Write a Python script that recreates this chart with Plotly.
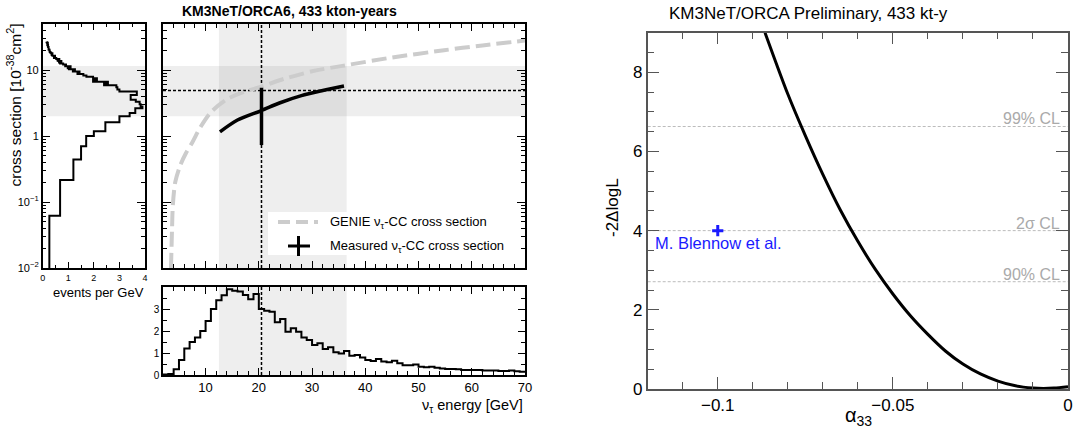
import plotly.graph_objects as go

W, H = 1077, 434
def fx(p): return p / W
def fy(p): return 1 - p / H

FONT = "Liberation Sans, Arial, Helvetica, sans-serif"

# ---------------- data ----------------
# energy histogram (1 GeV bins from 2 to 70 GeV), events per GeV
e_edges = list(range(2, 71))
counts = [0.02, 0.05, 0.26, 0.68, 1.20, 1.50, 1.70, 2.00, 2.45, 3.00,
          3.40, 3.62, 3.90, 3.83, 3.79, 3.64, 3.44, 3.68, 3.00, 2.92,
          2.88, 2.40, 2.55, 1.97, 2.12, 1.97, 1.71, 1.59, 1.36, 1.44,
          1.18, 1.26, 1.03, 0.98, 1.09, 0.88, 0.91, 0.80, 0.68, 0.64,
          0.73, 0.61, 0.58, 0.65, 0.53, 0.44, 0.44, 0.48, 0.38, 0.35,
          0.38, 0.33, 0.29, 0.27, 0.27, 0.26, 0.23, 0.23, 0.23, 0.23,
          0.21, 0.20, 0.21, 0.18, 0.18, 0.20, 0.17, 0.15]

# projected cross-section values at the energy edges 4..70 GeV (left panel)
sigma_edges = [0.005, 0.062, 0.216, 0.44, 0.70, 1.00, 1.18, 1.62, 1.99, 2.23,
               2.65, 2.80, 3.05, 3.30, 3.54, 4.21, 4.72, 5.10, 5.50, 5.90,
               6.25, 6.67, 7.10, 7.50, 7.90, 8.30, 8.70, 9.10, 9.50, 9.90,
               10.3, 10.7, 11.0, 11.4, 11.8, 12.2, 12.6, 13.0, 13.3, 13.7,
               14.0, 14.4, 14.8, 15.2, 15.6, 16.0, 16.5, 17.0, 17.5, 18.0,
               18.5, 19.0, 19.5, 20.0, 20.5, 21.0, 21.5, 22.0, 22.5, 23.0,
               23.5, 24.1, 24.7, 25.3, 25.9, 26.5, 27.0]
left_counts = counts[2:]   # bins 4..70 GeV

# GENIE nu_tau CC cross section [1e-38 cm^2]
genie_E = [3.5, 3.7, 3.85, 4.3, 5.24, 6.3, 7.5, 9.0, 11.0, 14.0, 17.3, 20.5,
           23.6, 30.0, 35.7, 45.0, 54.8, 62.0, 70.0]
genie_sigma = [0.01, 0.04, 0.09, 0.20, 0.36, 0.55, 0.80, 1.35, 2.3, 3.6, 4.7,
               5.6, 6.9, 9.6, 11.6, 15.5, 20.0, 23.7, 28.0]

# measured cross section
meas_E = [12.7, 16.0, 20.5, 24.0, 28.0, 32.0, 36.0]
meas_sigma = [1.16, 1.75, 2.44, 3.2, 4.1, 4.9, 5.74]
meas_point_E = 20.5
meas_err = [0.73, 5.4]
meas_ref_sigma = 4.9
band_E = [12.5, 36.5]
band_sigma = [2.0, 11.5]

# right panel: likelihood scan
alpha = [-0.0865, -0.080, -0.075, -0.070, -0.065, -0.060, -0.055, -0.050,
         -0.045, -0.040, -0.035, -0.030, -0.025, -0.020, -0.015, -0.010,
         -0.007, -0.004, 0.0]
dll = [9.0, 7.45, 6.4, 5.42, 4.52, 3.73, 3.02, 2.4, 1.85, 1.38, 0.96, 0.63,
       0.38, 0.2, 0.08, 0.025, 0.015, 0.025, 0.06]
cl_levels = [6.63, 4.0, 2.71]
cl_labels = ["99% CL", "2\u03c3 CL", "90% CL"]
blennow = [-0.1, 4.0]

fig = go.Figure()

band_col = "rgba(0,0,0,0.068)"

# ---------------- left panel ----------------
fig.add_trace(go.Scatter(x=[0, 4, 4, 0, 0],
                         y=[band_sigma[0], band_sigma[0], band_sigma[1], band_sigma[1], band_sigma[0]],
                         fill="toself", fillcolor=band_col, line=dict(width=0),
                         mode="lines", xaxis="x", yaxis="y", hoverinfo="skip"))
lx = list(left_counts) + [left_counts[-1]]
ly = list(sigma_edges)
fig.add_trace(go.Scatter(x=lx, y=ly, mode="lines", line=dict(color="black", width=2, shape="vh"),
                         xaxis="x", yaxis="y"))

# ---------------- main panel ----------------
fig.add_trace(go.Scatter(x=[2, 70, 70, 2, 2],
                         y=[band_sigma[0], band_sigma[0], band_sigma[1], band_sigma[1], band_sigma[0]],
                         fill="toself", fillcolor=band_col, line=dict(width=0),
                         mode="lines", xaxis="x2", yaxis="y2", hoverinfo="skip"))
fig.add_trace(go.Scatter(x=[band_E[0], band_E[1], band_E[1], band_E[0], band_E[0]],
                         y=[0.01, 0.01, 50, 50, 0.01],
                         fill="toself", fillcolor=band_col, line=dict(width=0),
                         mode="lines", xaxis="x2", yaxis="y2", hoverinfo="skip"))
fig.add_trace(go.Scatter(x=[meas_point_E, meas_point_E], y=[0.01, 50], mode="lines",
                         line=dict(color="black", width=1.5, dash="3px,2px"),
                         xaxis="x2", yaxis="y2"))
fig.add_trace(go.Scatter(x=[2, 70], y=[meas_ref_sigma, meas_ref_sigma], mode="lines",
                         line=dict(color="black", width=1.5, dash="3px,2px"),
                         xaxis="x2", yaxis="y2"))
fig.add_trace(go.Scatter(x=genie_E, y=genie_sigma, mode="lines",
                         line=dict(color="#cccccc", width=4, dash="15px,6px", shape="spline", smoothing=0.8),
                         xaxis="x2", yaxis="y2"))
fig.add_trace(go.Scatter(x=meas_E, y=meas_sigma, mode="lines",
                         line=dict(color="black", width=3.5, shape="spline", smoothing=0.8),
                         xaxis="x2", yaxis="y2"))
fig.add_trace(go.Scatter(x=[meas_point_E, meas_point_E], y=meas_err, mode="lines",
                         line=dict(color="black", width=3.5),
                         xaxis="x2", yaxis="y2"))

# ---------------- bottom panel ----------------
fig.add_trace(go.Scatter(x=[band_E[0], band_E[1], band_E[1], band_E[0], band_E[0]],
                         y=[0, 0, 4, 4, 0],
                         fill="toself", fillcolor=band_col, line=dict(width=0),
                         mode="lines", xaxis="x3", yaxis="y3", hoverinfo="skip"))
fig.add_trace(go.Scatter(x=[meas_point_E, meas_point_E], y=[0, 4], mode="lines",
                         line=dict(color="black", width=1.5, dash="3px,2px"),
                         xaxis="x3", yaxis="y3"))
hx = list(e_edges)
hy = list(counts) + [counts[-1]]
fig.add_trace(go.Scatter(x=hx, y=hy, mode="lines", line=dict(color="black", width=2, shape="hv"),
                         xaxis="x3", yaxis="y3"))

# ---------------- right panel ----------------
for lv in cl_levels:
    fig.add_trace(go.Scatter(x=[-0.12, 0], y=[lv, lv], mode="lines",
                             line=dict(color="#bbbbbb", width=1, dash="3px,2px"),
                             xaxis="x4", yaxis="y4"))
fig.add_trace(go.Scatter(x=alpha, y=dll, mode="lines",
                         line=dict(color="black", width=3, shape="spline", smoothing=0.8),
                         xaxis="x4", yaxis="y4"))
fig.add_trace(go.Scatter(x=[blennow[0]], y=[blennow[1]], mode="markers",
                         marker=dict(symbol="cross-thin", size=8, line=dict(color="#1a1aff", width=3)),
                         xaxis="x4", yaxis="y4"))

# ---------------- axes ----------------
def ax_common(**kw):
    d = dict(showgrid=False, zeroline=False, showline=True, linecolor="black", linewidth=1.5,
             ticks="inside", mirror="allticks", tickcolor="black", tickwidth=1, automargin=False,
             tickfont=dict(family=FONT, size=10, color="black"))
    d.update(kw)
    return d

main_y = [fy(268), fy(24)]
main_x = [fx(163), fx(525)]

fig.update_layout(
    xaxis=ax_common(domain=[fx(42.7), fx(145)], anchor="y", range=[0, 4],
                    tickvals=[0, 1, 2, 3, 4], ticklen=6, tickfont=dict(family=FONT, size=9, color="black"),
                    minor=dict(ticks="inside", ticklen=3, dtick=0.5, tickcolor="black")),
    yaxis=ax_common(domain=main_y, anchor="x", type="log", range=[-2, 1.699],
                    tickvals=[0.01, 0.1, 1, 10],
                    ticktext=["10<sup>\u22122</sup>", "10<sup>\u22121</sup>", "1", "10"],
                    ticklen=8, tickfont=dict(family=FONT, size=11, color="black"),
                    minor=dict(ticks="inside", ticklen=4, dtick="D1", tickcolor="black")),
    xaxis2=ax_common(domain=main_x, anchor="y2", range=[2, 70], dtick=10, tick0=0,
                     showticklabels=False, ticklen=7,
                     minor=dict(ticks="inside", ticklen=4, dtick=2, tick0=0, tickcolor="black")),
    yaxis2=ax_common(domain=main_y, anchor="x2", type="log", range=[-2, 1.699],
                     tickvals=[0.01, 0.1, 1, 10], showticklabels=False, ticklen=8,
                     minor=dict(ticks="inside", ticklen=4, dtick="D1", tickcolor="black")),
    xaxis3=ax_common(domain=main_x, anchor="y3", range=[2, 70], dtick=10, tick0=0,
                     ticklen=7, tickfont=dict(family=FONT, size=13, color="black"),
                     minor=dict(ticks="inside", ticklen=4, dtick=2, tick0=0, tickcolor="black")),
    yaxis3=ax_common(domain=[fy(375), fy(287)], anchor="x3", range=[0, 4],
                     tickvals=[0, 1, 2, 3], ticklen=7,
                     minor=dict(ticks="inside", ticklen=4, dtick=0.5, tick0=0, tickcolor="black")),
    xaxis4=ax_common(domain=[fx(647.7), fx(1068)], anchor="y4", range=[-0.12, 0],
                     tickvals=[-0.1, -0.05, 0], ticktext=["\u22120.1", "\u22120.05", "0"],
                     ticklen=12, linecolor="#555555", tickcolor="#555555",
                     tickfont=dict(family=FONT, size=17, color="black"),
                     minor=dict(ticks="inside", ticklen=7, dtick=0.01, tick0=0, tickcolor="#555555")),
    yaxis4=ax_common(domain=[fy(389), fy(32.7)], anchor="x4", range=[0, 9],
                     tickvals=[0, 2, 4, 6, 8], ticklen=12, linecolor="#555555", tickcolor="#555555",
                     tickfont=dict(family=FONT, size=17, color="black"),
                     minor=dict(ticks="inside", ticklen=7, dtick=0.5, tick0=0, tickcolor="#555555")),
)

# legend box (drawn manually, ROOT style)
shapes = [
    dict(type="rect", xref="paper", yref="paper", x0=fx(268), x1=fx(515), y0=fy(255), y1=fy(212),
         fillcolor="white", line=dict(width=0), layer="above"),
    dict(type="line", xref="paper", yref="paper", x0=fx(278), x1=fx(318), y0=fy(222), y1=fy(222),
         line=dict(color="#cccccc", width=4, dash="12px,6px"), layer="above"),
    dict(type="line", xref="paper", yref="paper", x0=fx(288), x1=fx(310), y0=fy(246), y1=fy(246),
         line=dict(color="black", width=3), layer="above"),
    dict(type="line", xref="paper", yref="paper", x0=fx(298.5), x1=fx(298.5), y0=fy(236), y1=fy(256),
         line=dict(color="black", width=3), layer="above"),
]

ann = []
def A(text, x, y, size, xanchor="center", yanchor="middle", color="black", angle=0):
    ann.append(dict(text=text, x=fx(x), y=fy(y), xref="paper", yref="paper", showarrow=False,
                    xanchor=xanchor, yanchor=yanchor, textangle=angle,
                    font=dict(family=FONT, size=size, color=color)))

A("<b>KM3NeT/ORCA6, 433 kton-years</b>", 180, 11, 14, xanchor="left")
A("cross section [10<sup>-38</sup>cm<sup>2</sup>]", 14, 22, 15.5, yanchor="top", angle=-90)
A("events per GeV", 146, 292, 13, xanchor="right")
A("\u03bd<sub>\u03c4</sub> energy [GeV]", 525, 406, 14.5, xanchor="right")
A("GENIE \u03bd<sub>\u03c4</sub>-CC cross section", 328, 222, 13, xanchor="left")
A("Measured \u03bd<sub>\u03c4</sub>-CC cross section", 328, 246, 13, xanchor="left")

A("KM3NeT/ORCA Preliminary, 433 kt-y", 667, 14, 17, xanchor="left")
A("-2\u0394logL", 613, 208, 17, angle=-90)
A("\u03b1<sub>33</sub>", 858, 416, 20)
cl_y = [119, 223, 274]
for lab, yy in zip(cl_labels, cl_y):
    A(lab, 1062, yy, 16, xanchor="right", color="#aaaaaa")
A("M. Blennow et al.", 653, 243, 16.5, xanchor="left", color="#1a1aff")

fig.update_layout(
    width=W, height=H, autosize=False,
    margin=dict(l=0, r=0, t=0, b=0, pad=0),
    paper_bgcolor="white", plot_bgcolor="rgba(0,0,0,0)",
    showlegend=False, shapes=shapes, annotations=ann,
    font=dict(family=FONT),
)

fig.write_html("out.html", config={"displayModeBar": False},
               post_script="document.body.style.margin='0px';document.body.style.overflow='hidden';")
